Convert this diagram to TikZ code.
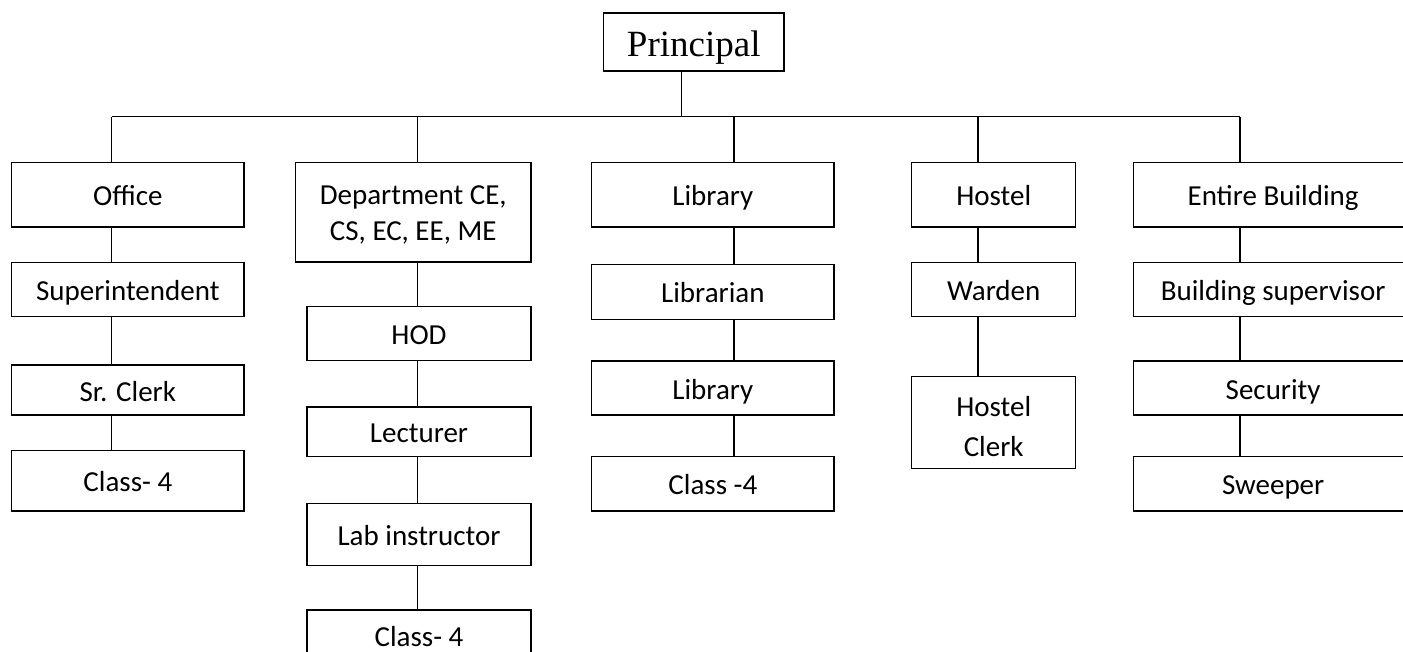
\documentclass[tikz,border=0pt]{standalone}
\usepackage{fontspec}
\setmainfont{Carlito}
\newfontfamily\tnrfont{Liberation Serif}
\tikzset{
  bx/.style={draw, line width=1.4pt, inner sep=0pt, align=center,
    font=\fontsize{29}{36}\selectfont, text height=22pt, text depth=0pt},
  link/.style={line width=1.4pt}
}
\newcommand\bx[7][]{\node[bx, minimum width={(#5-#3)*1pt}, minimum height={(#6-#4)*1pt}, #1] (#2) at ({(#3+#5)/2},{(#4+#6)/2}) {#7};}
\begin{document}
\begin{tikzpicture}[x=1pt,y=-1pt]
\clip (0,0) rectangle (1403,652);
\fill[white] (0,0) rectangle (1403,652);
% column x positions
\coordinate (cPrin) at (681.7,0);
\coordinate (bus) at (0,116.7);
\coordinate (cOff) at (111.7,0);
\coordinate (cDep) at (417.7,0);
\coordinate (cLib) at (734,0);
\coordinate (cHos) at (978,0);
\coordinate (cEnt) at (1240,0);
% boxes
\bx[font=\tnrfont\fontsize{37}{44}\selectfont, text height=30pt]{prin}{603.5}{13}{784}{71}{Principal}
\bx{off}{11.7}{162.7}{244}{227}{Office}
\bx{sup}{11.7}{262.7}{244}{316.7}{Superintendent}
\bx{clerk}{11.7}{365}{244}{415}{Sr. Clerk}
\bx{offc}{11.7}{450.7}{244}{511}{Class- 4}
\bx[text height=56.7pt]{dep}{295.5}{162.7}{531}{262}{Department CE,\\CS, EC, EE, ME}
\bx{hod}{307}{306.7}{531}{360.7}{HOD}
\bx{lec}{307}{407}{531}{456.7}{Lecturer}
\bx{lab}{307}{503.3}{531}{565.7}{Lab instructor}
\bx[text height=2pt]{depc}{307}{610}{531}{680}{Class- 4}
\bx{lib}{591.7}{162.7}{834}{227}{Library}
\bx{libn}{591.7}{264.3}{834}{319.3}{Librarian}
\bx{lib2}{591.7}{361}{834}{415}{Library}
\bx{libc}{591.7}{456.7}{834}{511}{Class -4}
\bx{hos}{911.7}{162.7}{1075.7}{227}{Hostel}
\bx{war}{911.7}{262.7}{1075.7}{316.7}{Warden}
\bx[font=\fontsize{29}{40}\selectfont, text height=68pt]{hcl}{911.7}{376.7}{1075.7}{468.7}{Hostel\\Clerk}
\bx{ent}{1133.3}{162.7}{1413}{227}{Entire Building}
\bx{bsup}{1133.3}{262.7}{1413}{316.7}{Building supervisor}
\bx{sec}{1133.3}{361}{1413}{415}{Security}
\bx{swp}{1133.3}{456.7}{1413}{511}{Sweeper}
% connectors
\draw[link] (prin.south -| cPrin) -- (cPrin |- bus);
\draw[link] (cOff |- bus) -- (cEnt |- bus);
\draw[link] (cOff |- bus) -- (off.north -| cOff);
\draw[link] (cDep |- bus) -- (dep.north -| cDep);
\draw[link] (cLib |- bus) -- (lib.north -| cLib);
\draw[link] (cHos |- bus) -- (hos.north -| cHos);
\draw[link] (cEnt |- bus) -- (ent.north -| cEnt);
\draw[link] (off.south -| cOff) -- (sup.north -| cOff);
\draw[link] (sup.south -| cOff) -- (clerk.north -| cOff);
\draw[link] (clerk.south -| cOff) -- (offc.north -| cOff);
\draw[link] (dep.south -| cDep) -- (hod.north -| cDep);
\draw[link] (hod.south -| cDep) -- (lec.north -| cDep);
\draw[link] (lec.south -| cDep) -- (lab.north -| cDep);
\draw[link] (lab.south -| cDep) -- (depc.north -| cDep);
\draw[link] (lib.south -| cLib) -- (libn.north -| cLib);
\draw[link] (libn.south -| cLib) -- (lib2.north -| cLib);
\draw[link] (lib2.south -| cLib) -- (libc.north -| cLib);
\draw[link] (hos.south -| cHos) -- (war.north -| cHos);
\draw[link] (war.south -| cHos) -- (hcl.north -| cHos);
\draw[link] (ent.south -| cEnt) -- (bsup.north -| cEnt);
\draw[link] (bsup.south -| cEnt) -- (sec.north -| cEnt);
\draw[link] (sec.south -| cEnt) -- (swp.north -| cEnt);
\end{tikzpicture}
\end{document}
